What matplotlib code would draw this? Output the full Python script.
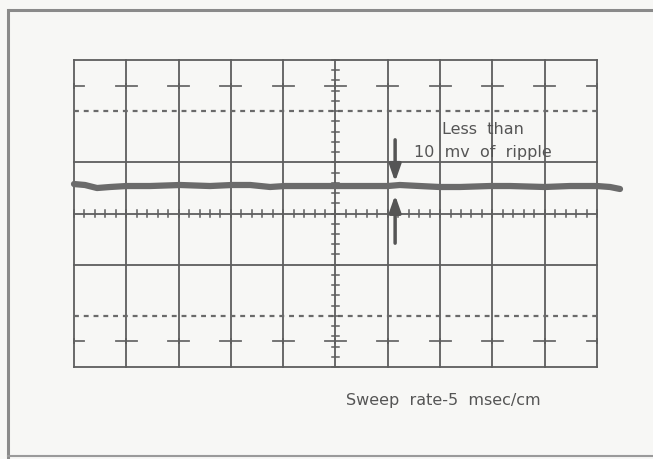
import numpy as np
import matplotlib
matplotlib.use("Agg")
import matplotlib.pyplot as plt

# Trace (x in cm / divisions, y in divisions)
trace_x = [0.0, 0.21, 0.44, 0.69, 1.0, 1.45, 2.03, 2.6, 3.02, 3.37, 3.75, 4.03,
           4.51, 4.99, 5.47, 6.0, 6.23, 6.61, 6.99, 7.38, 7.95, 8.34, 9.0, 9.48,
           10.0, 10.25, 10.44]
trace_y = [3.576, 3.557, 3.498, 3.518, 3.537, 3.537, 3.557, 3.537, 3.557, 3.557,
           3.518, 3.537, 3.537, 3.537, 3.537, 3.537, 3.557, 3.537, 3.518, 3.518,
           3.537, 3.537, 3.518, 3.537, 3.537, 3.518, 3.479]

n_cols = 10
n_rows = 6
solid_rows = [0, 2, 4, 6]
dashed_rows = [1, 5]
center_row = 3
center_col = 5
mark_rows = [0.5, 5.5]

label_ripple_1 = "Less  than"
label_ripple_2 = "10  mv  of  ripple"
label_sweep = "Sweep  rate-5  msec/cm"
arrow_x = 6.14

W, H = 653, 459
fig = plt.figure(figsize=(W / 100, H / 100), dpi=100)
fig.patch.set_facecolor("#f7f7f5")
ax = fig.add_axes([0, 0, 1, 1])
ax.set_facecolor("#f7f7f5")
# pixel mapping: x 74->0, 597->10 ; y 367->0, 60->6
px_per_x = (597 - 74) / 10
px_per_y = (367 - 60) / 6
ax.set_xlim(-74 / px_per_x, (W - 74) / px_per_x)
ax.set_ylim(-(H - 367) / px_per_y, 367 / px_per_y)
ax.axis("off")

gc = "#5e5e5e"
lw = 1.3

# outer frame
fx0 = -66 / px_per_x
fy_top = (367 - 10) / px_per_y
fy_bot = -(456 - 367) / px_per_y
ax.plot([fx0, 20], [fy_top, fy_top], color="#8a8a8a", lw=2.2, solid_capstyle="butt")
ax.plot([fx0, fx0], [fy_top, fy_bot - 1], color="#8a8a8a", lw=2.2)
ax.plot([fx0, 20], [fy_bot, fy_bot], color="#9a9a9a", lw=1.5)

# verticals
for c in range(n_cols + 1):
    ax.plot([c, c], [0, n_rows], color=gc, lw=lw)
# horizontal solid
for r in solid_rows + [center_row]:
    ax.plot([0, n_cols], [r, r], color=gc, lw=lw)
# dashed
for r in dashed_rows:
    ax.plot([0, n_cols], [r, r], color="#6a6a6a", lw=1.6, ls=(0, (2.2, 2.2)))

# small ticks on center lines
for t in np.arange(0, n_cols + 0.01, 0.2):
    ax.plot([t, t], [center_row - 0.07, center_row + 0.07], color=gc, lw=1.1)
for t in np.arange(0, n_rows + 0.01, 0.2):
    ax.plot([center_col - 0.07, center_col + 0.07], [t, t], color=gc, lw=1.1)

# marks crossing verticals at 0.5 and 5.5
for r in mark_rows:
    for c in range(n_cols + 1):
        ax.plot([max(c - 0.2, 0), min(c + 0.2, n_cols)], [r, r], color="#6a6a6a", lw=1.3)
        ax.plot([c, c], [r - 0.04, r + 0.04], color=gc, lw=1.3)

# trace
ax.plot(trace_x, trace_y, color="#6b6b6b", lw=4.5, solid_capstyle="round",
        solid_joinstyle="round")

# arrows
ax.annotate("", xy=(arrow_x, 3.62), xytext=(arrow_x, 4.44),
            arrowprops=dict(arrowstyle="-|>,head_length=1.0,head_width=0.35",
                            color="#555555", lw=2.5, shrinkA=0, shrinkB=0))
ax.annotate("", xy=(arrow_x, 3.36), xytext=(arrow_x, 2.42),
            arrowprops=dict(arrowstyle="-|>,head_length=1.0,head_width=0.35",
                            color="#555555", lw=2.5, shrinkA=0, shrinkB=0))

tc = "#555555"
fs = 11.5
ax.text((483 - 74) / px_per_x, (367 - 130) / px_per_y, label_ripple_1,
        ha="center", va="center", fontsize=fs, color=tc, family="DejaVu Sans")
ax.text((483 - 74) / px_per_x, (367 - 153) / px_per_y, label_ripple_2,
        ha="center", va="center", fontsize=fs, color=tc, family="DejaVu Sans")
ax.text((443 - 74) / px_per_x, (367 - 401) / px_per_y, label_sweep,
        ha="center", va="center", fontsize=fs, color=tc, family="DejaVu Sans")

fig.savefig("out.png", dpi=100, facecolor=fig.get_facecolor())
